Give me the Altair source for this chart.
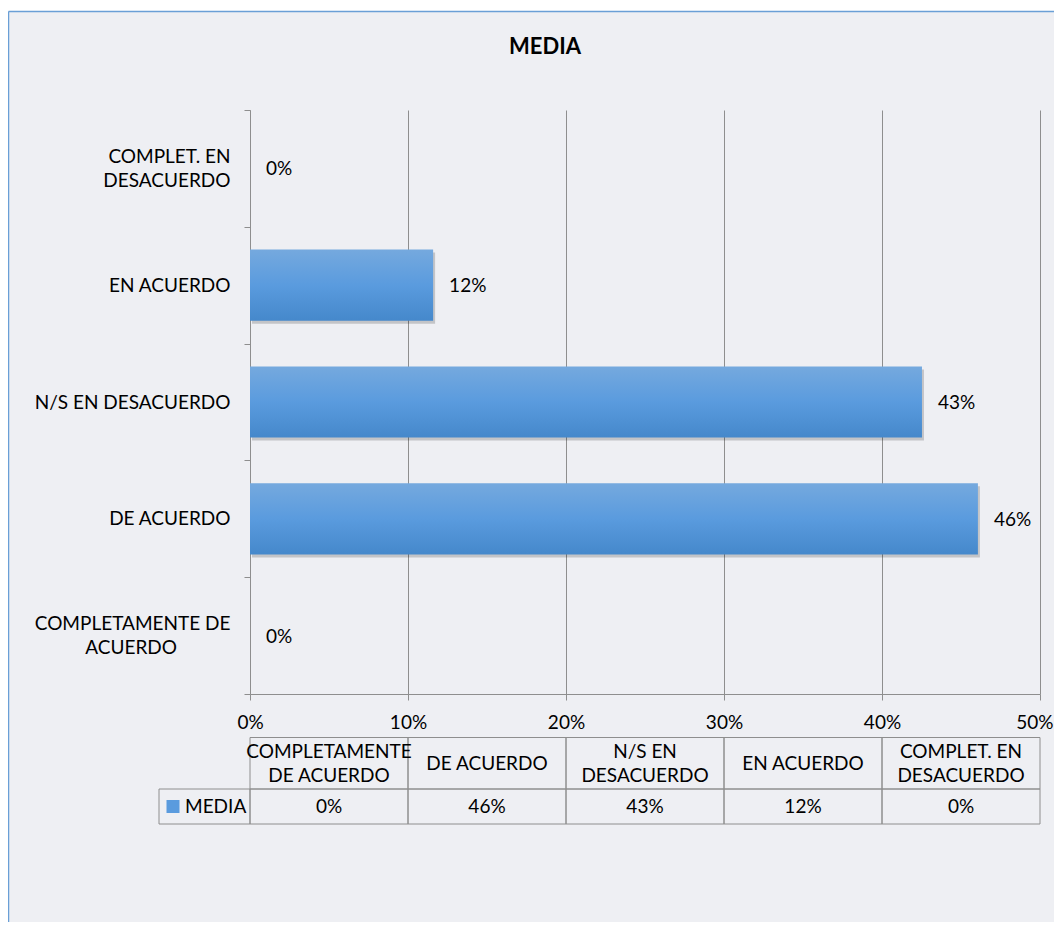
import json
import altair as alt
import pandas as pd

# ---------------- data ----------------
categories = ["COMPLETAMENTE DE ACUERDO", "DE ACUERDO", "N/S EN DESACUERDO",
              "EN ACUERDO", "COMPLET. EN DESACUERDO"]
values = [0.0, 0.4607, 0.4253, 0.1159, 0.0]
axis_labels = [["COMPLETAMENTE DE", "ACUERDO" + "\u00a0" * 11 + "\u200b"],
               ["DE ACUERDO"],
               ["N/S EN DESACUERDO"],
               ["EN ACUERDO"],
               ["COMPLET. EN", "DESACUERDO"]]
table_headers = ["COMPLETAMENTE\nDE ACUERDO", "DE ACUERDO", "N/S EN\nDESACUERDO",
                 "EN ACUERDO", "COMPLET. EN\nDESACUERDO"]
x_ticks = [0, 0.1, 0.2, 0.3, 0.4, 0.5]
series_name = "MEDIA"
chart_title = "MEDIA"

# ---------------- styles ----------------
FONT = "Lato"
FS = 19
LH = 24
GRAY = "#8E8E8E"
BG = "#EEEFF3"
FRAME = "#6A9FD6"

df = pd.DataFrame({"cat": categories, "val": values})
order_top = list(reversed(categories))

label_expr = " : ".join(
    f"datum.value === {json.dumps(c, ensure_ascii=False)} ? {json.dumps(l, ensure_ascii=False)}"
    for c, l in zip(categories, axis_labels)
) + " : datum.label"
multi_test = " || ".join(
    f"datum.value === {json.dumps(c, ensure_ascii=False)}"
    for c, l in zip(categories, axis_labels) if len(l) > 1
)

y_enc = alt.Y(
    "cat:N", sort=order_top,
    scale=alt.Scale(paddingInner=0, paddingOuter=0),
    axis=alt.Axis(title=None, labelExpr=label_expr, labelAlign="right",
                  labelBaseline="middle", labelFont=FONT, labelFontSize=FS,
                  labelColor="#000000", labelLineHeight=LH, labelPadding=14,
                  labelOffset={"condition": {"test": multi_test, "value": -LH / 2},
                               "value": 0},
                  labelLimit=0, tickSize=6, tickBand="extent", tickColor=GRAY,
                  domainColor=GRAY, grid=False),
)
x_enc = alt.X(
    "val:Q",
    scale=alt.Scale(domain=[x_ticks[0], x_ticks[-1]], nice=False, zero=True),
    axis=alt.Axis(title=None, values=x_ticks, format=".0%", grid=True,
                  gridColor=GRAY, domainColor=GRAY, tickColor=GRAY, tickSize=6,
                  labelPadding=13, labelFont=FONT, labelFontSize=FS,
                  labelColor="#000000", labelFlush=True, labelFlushOffset=13),
)

grad = alt.LinearGradient(
    gradient="linear",
    stops=[alt.GradientStop(color="#75A9DE", offset=0),
           alt.GradientStop(color="#5A9BDE", offset=0.5),
           alt.GradientStop(color="#4588CB", offset=1)],
    x1=0, x2=0, y1=0, y2=1,
)

base = alt.Chart(df)

shadow = base.mark_bar(height={"band": 0.61}, color="#000000", opacity=0.18,
                       xOffset=2, yOffset=3).encode(x=x_enc, y=y_enc)
bars = base.mark_bar(height={"band": 0.61}, color=grad).encode(x=x_enc, y=y_enc)
vlabels = base.mark_text(align="left", baseline="middle", dx=16, dy=1,
                         font=FONT, fontSize=FS, color="#000000").encode(
    x=x_enc, y=y_enc, text=alt.Text("val:Q", format=".0%"))

# ---------------- data table ----------------
tdf = pd.DataFrame({"start": x_ticks[:-1], "end": x_ticks[1:],
                    "header": table_headers, "val": values})
tbase = alt.Chart(tdf).transform_calculate(mid="(datum.start + datum.end) / 2")

head_cells = tbase.mark_rect(fillOpacity=0, stroke=GRAY, strokeWidth=1).encode(
    x="start:Q", x2="end:Q", y=alt.value(627.5), y2=alt.value(679))
data_cells = tbase.mark_rect(fillOpacity=0, stroke=GRAY, strokeWidth=1).encode(
    x="start:Q", x2="end:Q", y=alt.value(679), y2=alt.value(714))
head_text_2 = tbase.transform_filter("indexof(datum.header, '\\n') >= 0").mark_text(
    lineBreak="\n", lineHeight=LH, align="center", baseline="middle",
    font=FONT, fontSize=FS, color="#000000").encode(
    x="mid:Q", y=alt.value(653.5 - LH / 2), text="header:N")
head_text_1 = tbase.transform_filter("indexof(datum.header, '\\n') < 0").mark_text(
    align="center", baseline="middle",
    font=FONT, fontSize=FS, color="#000000").encode(
    x="mid:Q", y=alt.value(653.5), text="header:N")
data_text = tbase.mark_text(align="center", baseline="middle", font=FONT,
                            fontSize=FS, color="#000000").encode(
    x="mid:Q", y=alt.value(696.5), text=alt.Text("val:Q", format=".0%"))

ldf = pd.DataFrame({"name": [series_name], "title": [chart_title]})
lbase = alt.Chart(ldf)
leg_cell = lbase.mark_rect(fillOpacity=0, stroke=GRAY, strokeWidth=1).encode(
    x=alt.value(-91), x2=alt.value(0), y=alt.value(679), y2=alt.value(714))
leg_swatch = lbase.mark_square(size=169, color="#5A9BDE", opacity=1).encode(
    x=alt.value(-77), y=alt.value(696.5))
leg_text = lbase.mark_text(align="left", baseline="middle", font=FONT,
                           fontSize=FS, color="#000000").encode(
    x=alt.value(-65), y=alt.value(696.5), text="name:N")

title_text = lbase.mark_text(align="center", baseline="middle", font=FONT,
                             fontSize=22, fontWeight="bold", color="#000000").encode(
    x=alt.value(295), y=alt.value(-63), text="title:N")

# ---------------- frame ----------------
top_strip = lbase.mark_rect(color="white").encode(
    x=alt.value(-260), x2=alt.value(1000), y=alt.value(-110), y2=alt.value(-99))
frame_left = lbase.mark_rule(color=FRAME, strokeWidth=1.5).encode(
    x=alt.value(-241.5), y=alt.value(-98.5), y2=alt.value(1000))
frame_top = lbase.mark_rule(color=FRAME, strokeWidth=1.5).encode(
    x=alt.value(-241.5), x2=alt.value(1000), y=alt.value(-98.5))

chart = alt.layer(
    shadow, bars, vlabels,
    head_cells, data_cells, head_text_2, head_text_1, data_text,
    leg_cell, leg_swatch, leg_text, title_text,
    top_strip, frame_left, frame_top,
).properties(
    width=790, height=584,
    autosize=alt.AutoSizeParams(type="none"),
    padding={"left": 242, "top": 102, "right": 14, "bottom": 228},
    background=BG,
).configure_view(stroke=None)

chart.save("out.html", embed_options={"renderer": "svg", "actions": False})
